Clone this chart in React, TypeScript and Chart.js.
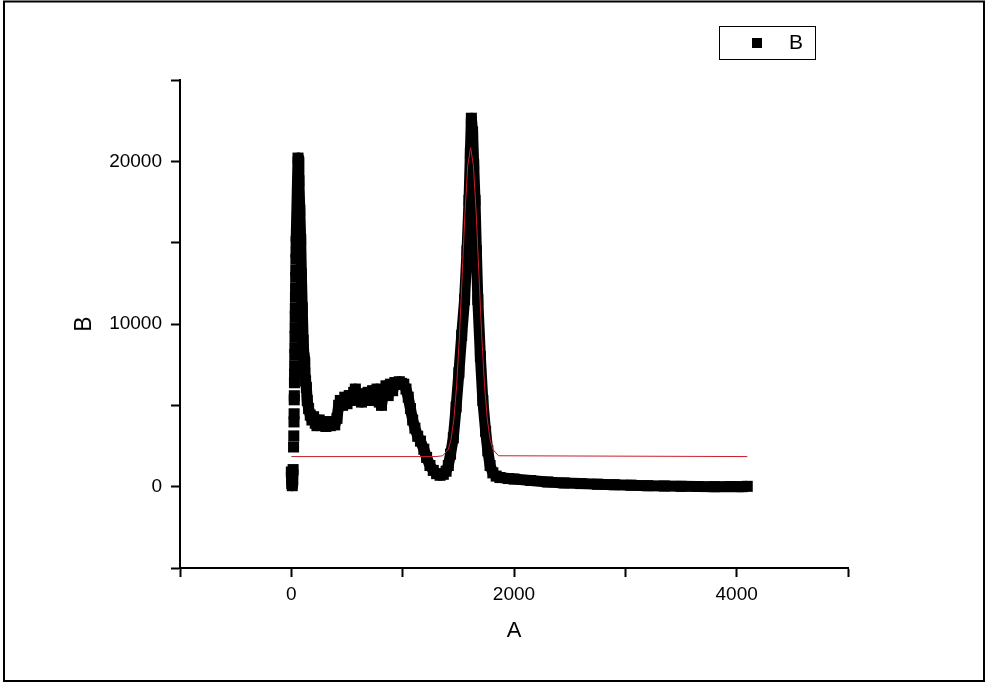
import React, { useEffect, useRef } from 'react';
import { Chart, registerables } from 'chart.js';

Chart.register(...registerables);

const bX = [
  0, 4, 8, 12, 16,
  20, 22, 24, 25, 26, 27, 28, 29, 30, 31, 32, 33, 34, 35, 36, 37, 38, 39, 40, 41, 42, 43,
  60, 68, 76, 84, 90, 98, 106, 114, 121, 128, 135, 143, 155, 170, 185, 200, 215, 230, 250,
  270, 290, 310, 330, 350, 370, 390, 410, 425, 440, 460, 480, 500, 520, 540, 560, 575, 590,
  610, 630, 650, 670, 690, 710, 730, 750, 770, 790, 810, 830, 850, 870, 890, 910, 930, 950,
  970, 990, 1010, 1030, 1050, 1070, 1090, 1110, 1135, 1160, 1190, 1215, 1245, 1275, 1305,
  1336, 1365, 1390, 1410, 1430, 1455, 1480, 1505, 1530, 1556, 1578, 1596, 1608, 1617, 1628,
  1638, 1650, 1662, 1675, 1698, 1720, 1745, 1765, 1785, 1810, 1840, 1874, 1950, 2000, 2150,
  2300, 2450, 2600, 2750, 2900, 3050, 3200, 3350, 3500, 3650, 3800, 3950, 4050, 4095,
];
const bY = [
  900, 200, 60, 450, 1050,
  2440, 3120, 3980, 4480, 5340, 5590, 6390, 6910, 7440, 8120, 8550, 9230, 9780, 10460, 10960, 11640, 12190, 12870, 13300, 13980, 14410, 15060,
  20200, 18800, 17000, 15200, 13100, 11000, 9000, 7900, 7000, 6500, 6100, 5300, 4800, 4400, 4100, 4300, 3900, 3750, 4100,
  3800, 4000, 3700, 3900, 3750, 4000, 3800, 4200, 5000, 5300, 5000, 5500, 5100, 5600, 5300, 5800, 6000, 5400,
  5700, 5200, 5700, 5400, 5800, 5300, 5900, 5500, 6000, 5200, 5000, 5900, 6200, 5600, 6300, 5900, 6400, 6300,
  6450, 6350, 6300, 6000, 5500, 4800, 4100, 3600, 3100, 2800, 2300, 1800, 1300, 1000, 800,
  700, 760, 950, 1300, 2000, 3000, 4900, 7000, 9300, 11500, 14500, 17600, 20500, 22650, 21800,
  19800, 17600, 14500, 11500, 8000, 5300, 3400, 2200, 1300, 850, 650, 560, 500, 470, 380,
  290, 230, 190, 150, 120, 90, 60, 40, 20, 10, 0, 10, 0, 20,
];
// x-range where the rising markers stand apart (no joining band)
const sparseFrom = 16;
const sparseTo = 43;

// Fit curve (red)
const fitX = [0, 1300, 1360, 1410, 1435, 1460, 1485, 1510, 1535, 1560, 1585, 1610, 1635, 1660, 1685, 1710, 1735, 1760, 1785, 1810, 1860, 4095];
const fitY = [1850, 1850, 1900, 2300, 2920, 4150, 6230, 9280, 13050, 16870, 19760, 20840, 19760, 16870, 13050, 9280, 6230, 4150, 2920, 2300, 1900, 1850];

const xLabelled = [0, 2000, 4000];
const yLabelled = [0, 10000, 20000];

const FONT = "'Liberation Sans', Arial, sans-serif";

export default function App() {
  const ref = useRef<HTMLCanvasElement>(null);

  useEffect(() => {
    document.body.style.margin = '0';
    const canvas = ref.current;
    if (!canvas) return;

    const framePlugin = {
      id: 'frameAndLegend',
      beforeDraw(chart: any) {
        const c = chart.ctx;
        c.save();
        c.fillStyle = '#ffffff';
        c.fillRect(0, 0, chart.width, chart.height);
        c.restore();
      },
      afterDraw(chart: any) {
        const c = chart.ctx;
        c.save();
        c.strokeStyle = '#000';
        c.lineWidth = 2;
        c.strokeRect(4, 1.5, 980, 679.5);
        // legend box
        c.lineWidth = 1;
        c.strokeRect(719.5, 26.5, 96, 33);
        c.fillStyle = '#000';
        c.fillRect(752, 38, 10, 10);
        c.font = `21px ${FONT}`;
        c.textAlign = 'center';
        c.textBaseline = 'middle';
        c.fillText(chart.data.datasets[0].label, 796, 43);
        c.restore();
      },
    };

    const chart = new Chart(canvas, {
      type: 'scatter',
      data: {
        datasets: [
          {
            label: 'B',
            data: bX.map((x, i) => ({ x, y: bY[i] })),
            showLine: true,
            borderColor: '#000',
            borderWidth: 11,
            borderJoinStyle: 'round',
            borderCapStyle: 'butt',
            pointStyle: 'rect',
            pointRadius: 7.8,
            pointHoverRadius: 7.8,
            pointBackgroundColor: '#000',
            pointBorderWidth: 0,
            order: 1,
            segment: {
              borderColor: (ctx: any) =>
                ctx.p0.parsed.x >= sparseFrom && ctx.p1.parsed.x <= sparseTo ? 'rgba(0,0,0,0)' : undefined,
            },
          } as any,
          {
            label: 'fit',
            data: fitX.map((x, i) => ({ x, y: fitY[i] })),
            showLine: true,
            borderColor: '#c8202c',
            borderWidth: 1,
            pointRadius: 0,
            pointHoverRadius: 0,
            order: 0,
          } as any,
        ],
      },
      options: {
        animation: false,
        responsive: false,
        devicePixelRatio: 1,
        events: [],
        layout: { padding: { left: 0, right: 143, top: 80, bottom: 0 } },
        plugins: {
          legend: { display: false },
          tooltip: { enabled: false },
        },
        scales: {
          x: {
            type: 'linear',
            min: -1000,
            max: 5000,
            afterFit: (scale: any) => { scale.height = 118; },
            border: { display: true, color: '#000', width: 2 },
            grid: { drawOnChartArea: false, drawTicks: true, tickLength: 9, tickWidth: 2, tickColor: '#000' },
            ticks: {
              stepSize: 1000,
              autoSkip: false,
              maxRotation: 0,
              padding: 6,
              color: '#000',
              font: { family: FONT, size: 19 },
              callback: (v: any) => (xLabelled.includes(Number(v)) ? String(v) : ''),
            },
            title: {
              display: true,
              text: 'A',
              color: '#000',
              font: { family: FONT, size: 22 },
              padding: { top: 0, bottom: 42 },
            },
          },
          y: {
            type: 'linear',
            min: -5000,
            max: 25000,
            afterFit: (scale: any) => { scale.width = 180; },
            border: { display: true, color: '#000', width: 2 },
            grid: { drawOnChartArea: false, drawTicks: true, tickLength: 9, tickWidth: 2, tickColor: '#000' },
            ticks: {
              stepSize: 5000,
              autoSkip: false,
              padding: 9,
              color: '#000',
              font: { family: FONT, size: 19 },
              callback: (v: any) => (yLabelled.includes(Number(v)) ? String(v) : ''),
            },
            title: {
              display: true,
              text: 'B',
              color: '#000',
              font: { family: FONT, size: 23 },
              padding: { top: 71, bottom: 0 },
            },
          },
        },
      },
      plugins: [framePlugin],
    } as any);

    return () => chart.destroy();
  }, []);

  return <canvas ref={ref} width={991} height={686} style={{ display: 'block' }} />;
}
